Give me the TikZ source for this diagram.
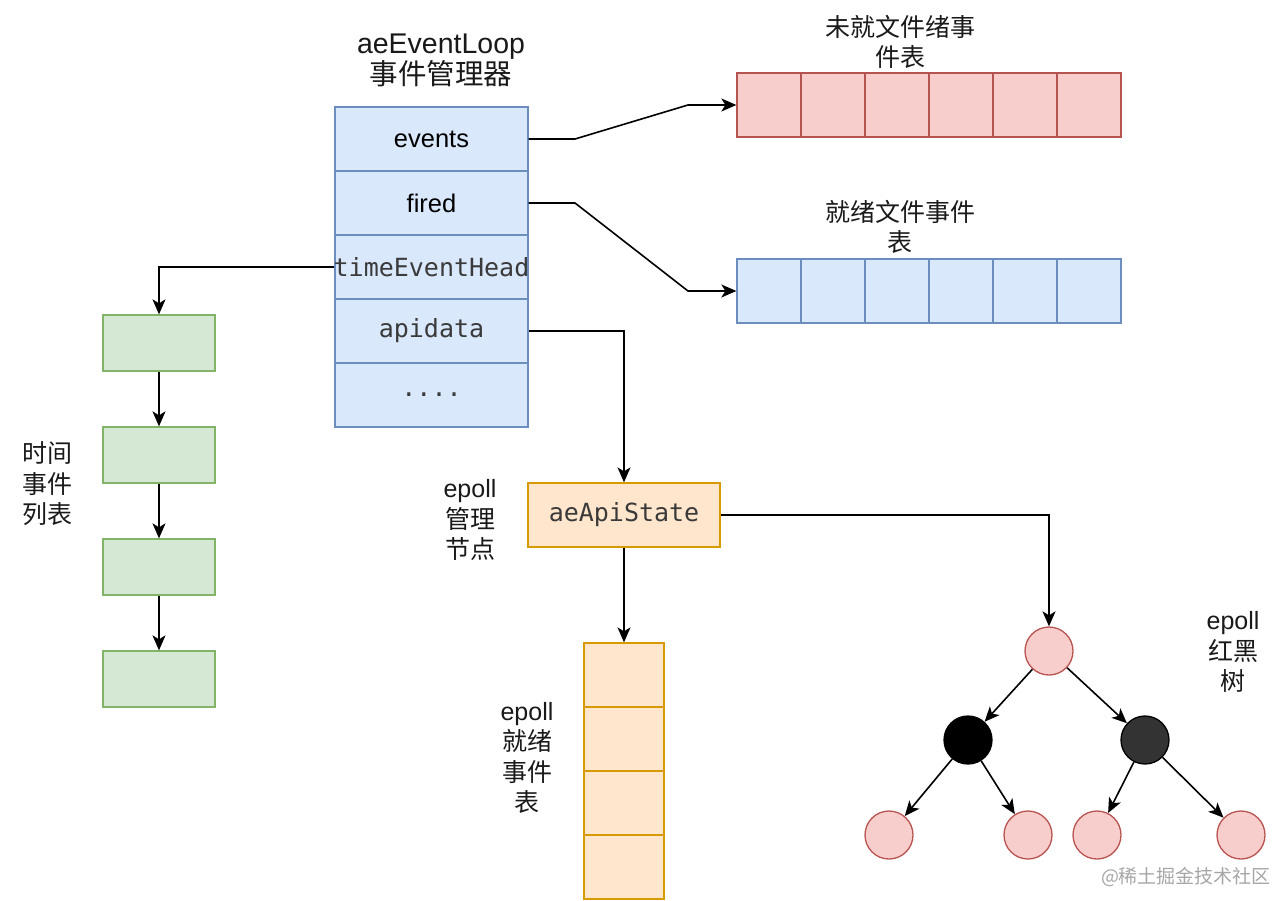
\documentclass[tikz,border=0pt]{standalone}
\usepackage{fontspec}
\setmainfont{Liberation Sans}
\setmonofont{DejaVu Sans Mono}
\newfontfamily\cjk{Noto Sans CJK SC}
\usetikzlibrary{arrows.meta}
\definecolor{bfill}{HTML}{DAE8FC}\definecolor{bline}{HTML}{6C8EBF}
\definecolor{rfill}{HTML}{F8CECC}\definecolor{rline}{HTML}{B85450}
\definecolor{gfill}{HTML}{D5E8D4}\definecolor{gline}{HTML}{82B366}
\definecolor{ofill}{HTML}{FFE6CC}\definecolor{oline}{HTML}{D79B00}
\definecolor{monotext}{HTML}{3A3A3A}
\begin{document}
\begin{tikzpicture}[x=1pt,y=-1pt,
  cellbase/.style={draw, line width=1.3pt, inner sep=0pt, anchor=center},
  bcell/.style={cellbase, fill=bfill, draw=bline, minimum width=193pt, minimum height=64pt, font=\fontsize{25.5}{28}\selectfont},
  mcell/.style={bcell, font=\ttfamily\fontsize{25}{28}\selectfont, text=monotext},
  arrcellr/.style={cellbase, fill=rfill, draw=rline, minimum width=64pt, minimum height=64pt},
  arrcellb/.style={cellbase, fill=bfill, draw=bline, minimum width=64pt, minimum height=64pt},
  gbox/.style={cellbase, fill=gfill, draw=gline, minimum width=112pt, minimum height=56pt},
  ocell/.style={cellbase, fill=ofill, draw=oline, minimum width=80pt, minimum height=64pt},
  rbnode/.style={circle, draw=rline, fill=rfill, line width=1.3pt, minimum size=48pt, inner sep=0pt},
  bknode/.style={circle, draw=black, fill=#1, line width=1.3pt, minimum size=48pt, inner sep=0pt},
  lbl/.style={align=center, font=\fontsize{25}{30.5}\selectfont, text=black!90},
  cjklbl/.style={align=center, font=\cjk\fontsize{25}{30.5}\selectfont, text=black!90},
  arr/.style={line width=1.6pt, -{Stealth[length=15pt,width=13pt,inset=4pt]}},
]
\useasboundingbox (0,0) rectangle (1280,900);

% title
\node[align=center, font=\fontsize{28.5}{31}\selectfont, text=black!90] (title) at (441,60) {aeEventLoop\\{\cjk 事件管理器}};

% main struct
\node[bcell] (ev) at (431.5,139) {events};
\node[bcell] (fi) at (431.5,203) {fired};
\node[mcell] (teh) at (431.5,267) {\makebox[150pt]{timeEventHead}};
\node[mcell] (api) at (431.5,331) {apidata};
\node[mcell] (dots) at (431.5,395) {....};

% file event arrays
\foreach \i in {0,...,5} {
  \node[arrcellr] (r\i) at ({769+64*\i},105) {};
  \node[arrcellb] (b\i) at ({769+64*\i},291) {};
}
\node[cjklbl] (rlbl) at (900,42) {未就文件绪事\\件表};
\node[cjklbl] (blbl) at (900,227) {就绪文件事件\\表};

\coordinate (e1) at (575,139);
\coordinate (e2) at (688,105);
\draw[arr] (ev.east) -- (e1) -- (e2) -- (r0.west);
\coordinate (f1) at (575,203);
\coordinate (f2) at (688,291);
\draw[arr] (fi.east) -- (f1) -- (f2) -- (b0.west);

% green list
\node[gbox] (g1) at (159,343) {};
\node[gbox] (g2) at (159,455) {};
\node[gbox] (g3) at (159,567) {};
\node[gbox] (g4) at (159,679) {};
\node[cjklbl] (glbl) at (48,484) {时间\\事件\\列表};
\draw[arr] (teh.west) -| (g1.north);
\draw[arr] (g1) -- (g2);
\draw[arr] (g2) -- (g3);
\draw[arr] (g3) -- (g4);

% aeApiState
\node[cellbase, fill=ofill, draw=oline, minimum width=192pt, minimum height=64pt,
      font=\ttfamily\fontsize{25}{28}\selectfont, text=monotext] (state) at (624,515) {aeApiState};
\node[lbl] (slbl) at (470,520) {epoll\\{\cjk 管理}\\{\cjk 节点}};
\draw[arr] (api.east) -| (state.north);

% epoll ready table
\node[ocell] (o1) at (624,675) {};
\node[ocell] (o2) at (624,739) {};
\node[ocell] (o3) at (624,803) {};
\node[ocell] (o4) at (624,867) {};
\node[lbl] (olbl) at (527,758) {epoll\\{\cjk 就绪}\\{\cjk 事件}\\{\cjk 表}};
\draw[arr] (state.south) -- (o1.north);

% red-black tree
\node[rbnode] (root) at (1049,651) {};
\node[bknode=black] (bl) at (968,740) {};
\node[bknode=black!80] (br) at (1145,740) {};
\node[rbnode] (l1) at (889,835) {};
\node[rbnode] (l2) at (1028,835) {};
\node[rbnode] (l3) at (1097,835) {};
\node[rbnode] (l4) at (1241,835) {};
\node[lbl] (tlbl) at (1233,652) {epoll\\{\cjk 红黑}\\{\cjk 树}};
\draw[arr] (state.east) -| (root.north);
\draw[arr] (root) -- (bl);
\draw[arr] (root) -- (br);
\draw[arr] (bl) -- (l1);
\draw[arr] (bl) -- (l2);
\draw[arr] (br) -- (l3);
\draw[arr] (br) -- (l4);

% watermark
\node[font=\cjk\fontsize{19}{20}\selectfont, text=black!35] (wm) at (1186,877) {@稀土掘金技术社区};
\end{tikzpicture}
\end{document}
